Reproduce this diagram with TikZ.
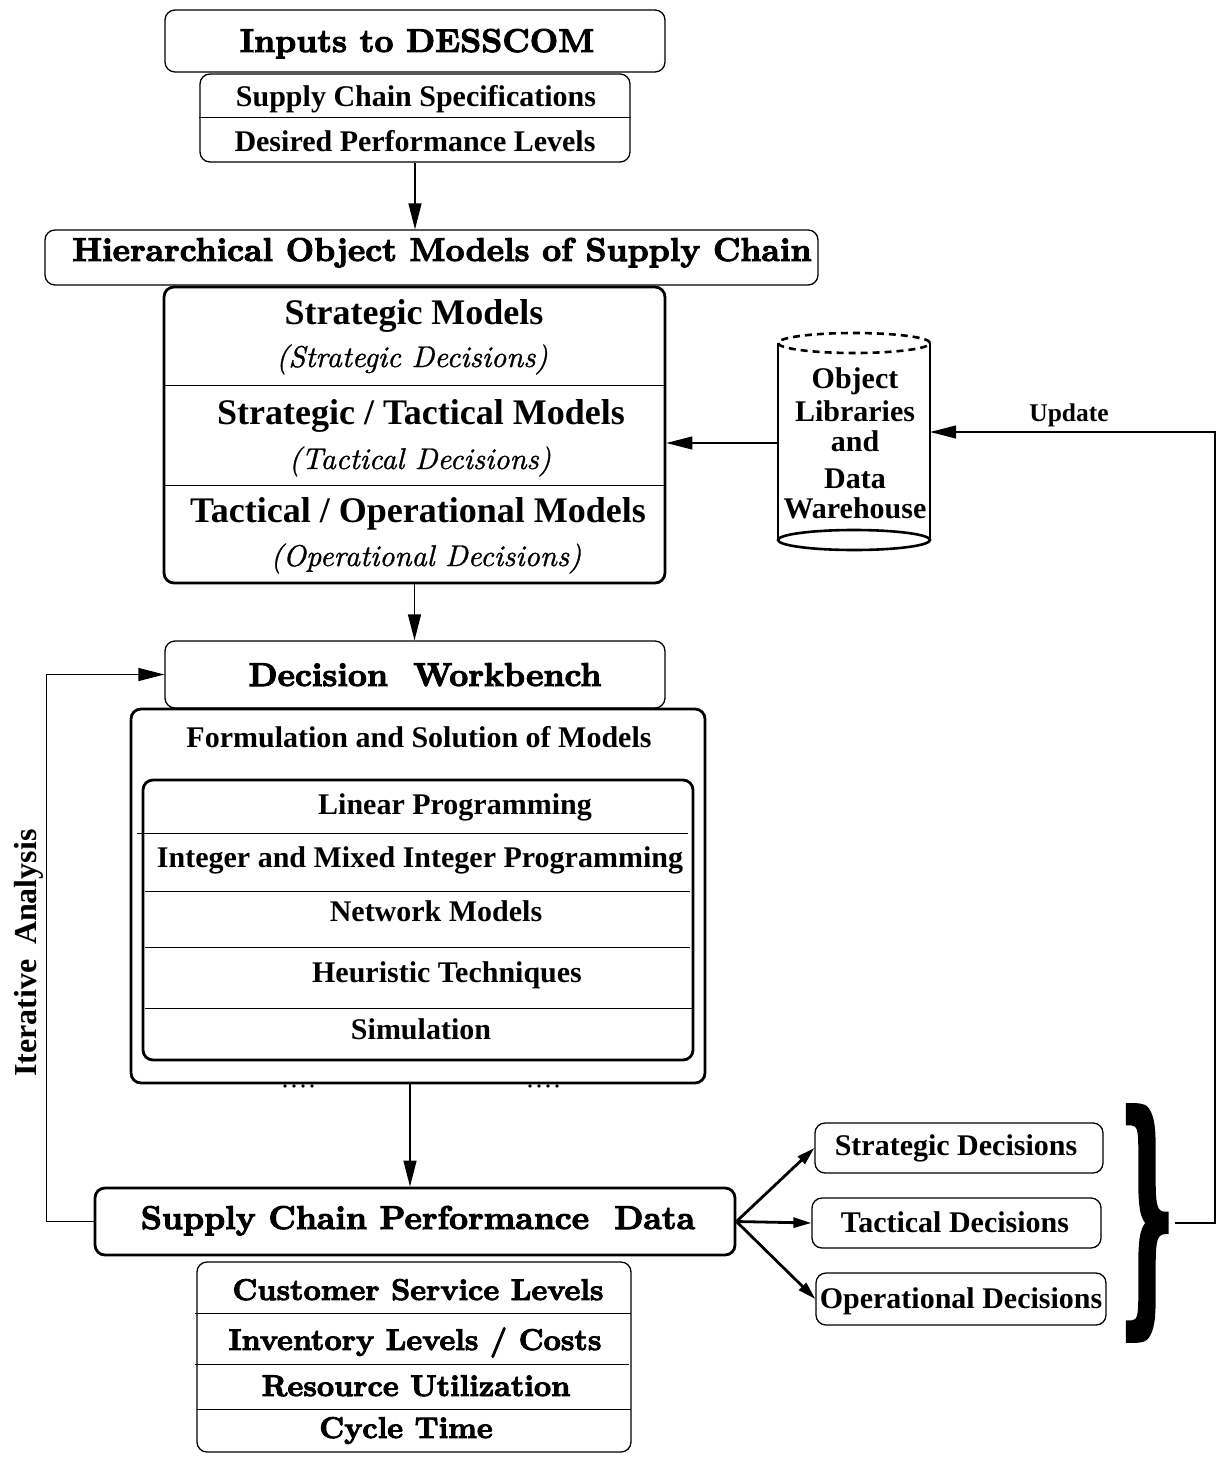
\documentclass[tikz,border=0pt]{standalone}
\usepackage{fontspec}
\newfontfamily\tms{Liberation Serif}
\newfontfamily\lmbx{lmroman10-bold.otf}[FakeBold=3]
\newfontfamily\lmit{lmroman10-italic.otf}[FakeBold=1]
\newfontfamily\bracefont{DejaVu Serif}[FakeBold=3]
\usetikzlibrary{arrows.meta,calc}
\begin{document}
\begin{tikzpicture}[x=1pt,y=-1pt,
  box/.style={draw, line width=1.3pt, rounded corners=10pt, inner sep=0pt},
  heavy/.style={box, line width=2.8pt},
  tx/.style={anchor=base, inner sep=0pt, font=\tms\bfseries\fontsize{30}{33}\selectfont},
  txl/.style={tx, font=\tms\bfseries\fontsize{36}{40}\selectfont},
  hdtext/.style={anchor=base, inner sep=0pt, font=\lmbx\fontsize{33}{36}\selectfont},
  hdsmall/.style={hdtext, font=\lmbx\fontsize{30}{33}\selectfont},
  itx/.style={anchor=base, inner sep=0pt, font=\lmit\fontsize{30}{33}\selectfont},
  divider/.style={line width=1pt},
  arr/.style={line width=1.3pt, -{Triangle[length=26pt,width=13pt]}},
  darr/.style={line width=2.8pt, -{Triangle[length=18pt,width=10pt]}}
]
\useasboundingbox (0,0) rectangle (1217,1458);

% ---- inputs ----
\node[box, minimum width=500pt, minimum height=62pt] (inp) at (415,41) {};
\node[hdtext] (inpt) at (417,52) {Inputs to DESSCOM};
\node[box, minimum width=430pt, minimum height=88pt] (spec) at (415,118) {};
\draw[divider] (spec.west) -- (spec.east);
\node[tx] (spec1) at (416,107) {Supply Chain Specifications};
\node[tx] (spec2) at (415,152) {Desired Performance Levels};

% ---- hierarchical object models ----
\node[box, minimum width=773pt, minimum height=55pt] (hier) at (431.5,257.5) {};
\node[hdtext] (hiert) at (442,261) {Hierarchical Object Models of Supply Chain};
\draw[arr] (spec.south) -- (spec.south |- hier.north);

\node[heavy, minimum width=501pt, minimum height=296pt] (sm) at (414.5,435) {};
\draw[divider] (164,385) -- (665,385);
\draw[divider] (164,485) -- (665,485);
\node[txl] (sm1) at (414,324) {Strategic Models};
\node[itx] (sm2) at (412,367) {(Strategic Decisions)};
\node[txl] (sm3) at (421,424) {Strategic / Tactical Models};
\node[itx] (sm4) at (420,469) {(Tactical Decisions)};
\node[txl] (sm5) at (418,522) {Tactical / Operational Models};
\node[itx] (sm6) at (426,566) {(Operational Decisions)};

% ---- object libraries cylinder ----
\node[minimum width=152pt, minimum height=218pt, inner sep=0pt] (odb) at (854,441) {};
\draw[line width=2.6pt] (778,343) -- (778,540);
\draw[line width=2.6pt] (930,343) -- (930,540);
\draw[line width=2.6pt] (854,540) ellipse [x radius=76pt, y radius=10pt];
\draw[line width=2.6pt, dash pattern=on 7pt off 5pt] (854,343) ellipse [x radius=76pt, y radius=10pt];
\foreach \t/\yy [count=\i] in {Object/388, Libraries/421, and/451, Data/488, Warehouse/518}
  \node[tx, name=lib\i] at (855,\yy) {\t};
\draw[arr] (odb.west |- 0,443) -- (sm.east |- 0,443);

% ---- decision workbench ----
\node[box, minimum width=500pt, minimum height=67pt] (dw) at (415,674.5) {};
\node[hdtext] (dwt) at (425,686) {Decision~~Workbench};
\draw[arr] (sm.south) -- (sm.south |- dw.north);

\node[heavy, minimum width=574pt, minimum height=374pt] (form) at (418,896) {};
\node[tx] (formt) at (419,747) {Formulation and Solution of Models};
\node[heavy, minimum width=550pt, minimum height=280pt] (tech) at (418,920) {};
\draw[divider] (137,833) -- (688,833);
\draw[divider] (145,891) -- (690,891);
\draw[divider] (145,947) -- (690,947);
\draw[divider] (145,1008) -- (692,1008);
\node[tx] (t1) at (455,814) {Linear Programming};
\node[tx] (t2) at (420,867) {Integer and Mixed Integer Programming};
\node[tx] (t3) at (436,921) {Network Models};
\node[tx] (t4) at (447,982) {Heuristic Techniques};
\node[tx] (t5) at (421,1039) {Simulation};
% small dots under the solution box
\foreach \xx in {285,294,303,312,530,539,548,557}
  \fill (\xx,1086) circle [radius=1.8pt];

% ---- performance data ----
\node[heavy, minimum width=640pt, minimum height=67pt] (perf) at (415,1221.5) {};
\node[hdtext] (perft) at (418,1229) {Supply Chain Performance~~Data};
\draw[arr] ([xshift=-8pt]form.south) -- ([xshift=-8pt]form.south |- perf.north);

\node[box, minimum width=434pt, minimum height=190pt] (met) at (414,1357) {};
\draw[divider] (195,1313) -- (631,1313);
\draw[divider] (195,1364) -- (629,1364);
\draw[divider] (197,1409) -- (631,1409);
\node[hdsmall] (m1) at (418,1300) {Customer Service Levels};
\node[hdsmall] (m2) at (415,1350) {Inventory Levels / Costs};
\node[hdsmall] (m3) at (416,1396) {Resource Utilization};
\node[hdsmall] (m4) at (406,1438) {Cycle Time};

% ---- iterative analysis loop ----
\draw[arr] (perf.west) -- ++(-47,0) |- (dw.west);
\node[tx, rotate=90, font=\tms\bfseries\fontsize{32}{34}\selectfont] (iter) at (36,953) {Iterative\hspace{0.45em}Analysis};

% ---- decisions ----
\node[box, minimum width=288pt, minimum height=50pt] (sd) at (959,1148) {};
\node[box, minimum width=289pt, minimum height=50pt] (td) at (956.5,1223) {};
\node[box, minimum width=290pt, minimum height=52pt] (od) at (961,1299) {};
\node[tx] (sdt) at (956,1155) {Strategic Decisions};
\node[tx] (tdt) at (955,1232) {Tactical Decisions};
\node[tx] (odt) at (961,1308) {Operational Decisions};
\draw[darr] (perf.east) -- (sd.west);
\draw[darr] (perf.east) -- (td.west);
\draw[darr] (perf.east) -- (od.west);

% ---- brace and update feedback ----
\node[inner sep=0pt] (brace) at (1147,1223) {\resizebox*{55pt}{232pt}{\bracefont\bfseries\}}};
\coordinate (upd) at (1215,432);
\draw[arr] (brace.east) -| (upd) -- (upd -| odb.east);
\node[tx, font=\tms\bfseries\fontsize{25.5}{28}\selectfont] (updt) at (1069,421) {Update};
\end{tikzpicture}
\end{document}
